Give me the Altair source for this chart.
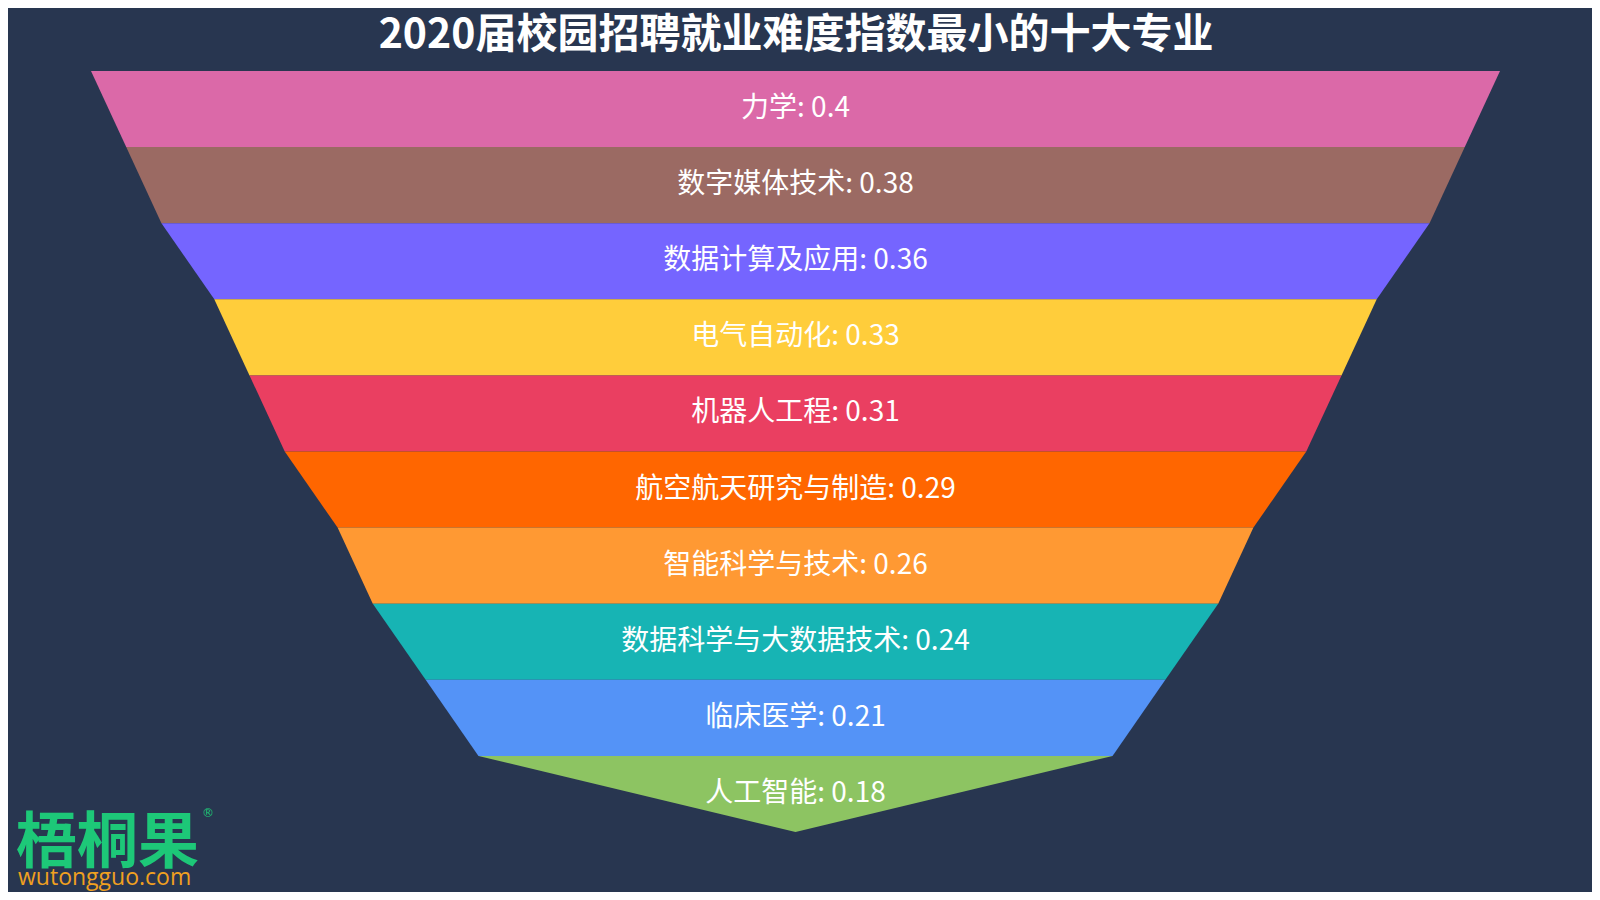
import altair as alt
import pandas as pd

names = ["力学", "数字媒体技术", "数据计算及应用", "电气自动化", "机器人工程",
         "航空航天研究与制造", "智能科学与技术", "数据科学与大数据技术", "临床医学", "人工智能"]
values = [0.4, 0.38, 0.36, 0.33, 0.31, 0.29, 0.26, 0.24, 0.21, 0.18]
colors = ["#db69a8", "#9b6a63", "#7565ff", "#ffcd3b", "#ea3f61",
          "#ff6600", "#ff9933", "#17b4b4", "#5493f7", "#8dc462"]
title_text = "2020届校园招聘就业难度指数最小的十大专业"

BG = "#283650"

# trapezoid per band as a range area along x: top edge at band index i,
# bottom edge at i+1 between -next..next, slanted sides from +-value to +-next
rows = []
for i, (n, v) in enumerate(zip(names, values)):
    nxt = values[i + 1] if i + 1 < len(values) else 0.0
    if nxt == 0.0:
        pts = [(-v, i, i), (0.0, i, i + 1), (v, i, i)]
    else:
        pts = [(-v, i, i), (-nxt, i, i + 1), (nxt, i, i + 1), (v, i, i)]
    for x, yt, yb in pts:
        rows.append({"name": n, "xv": x, "top": yt, "bot": yb})
shapes = pd.DataFrame(rows)

labels = pd.DataFrame({
    "name": names,
    "mid": [i + 0.5 for i in range(len(names))],
    "text": [f"{n}: {v}" for n, v in zip(names, values)],
})

# value v spans [-v, v]; -0.4..0.4 -> 83..1492 px of the 1584-wide view
xscale = alt.Scale(domain=[-0.4 - 83 / 1761.25, 0.4 + 92 / 1761.25], nice=False, zero=False)
yscale = alt.Scale(domain=[-63 / 76.1, 10 + 60 / 76.1], nice=False, zero=False, reverse=True)

areas = alt.Chart(shapes).mark_area(opacity=1, interpolate="linear").encode(
    x=alt.X("xv:Q", scale=xscale, axis=None),
    y=alt.Y("top:Q", scale=yscale, axis=None, stack=None),
    y2="bot:Q",
    color=alt.Color("name:N", scale=alt.Scale(domain=names, range=colors), legend=None),
)

text = alt.Chart(labels).mark_text(
    font="Noto Sans CJK SC", fontSize=28, color="white", baseline="middle", align="center"
).encode(
    y=alt.Y("mid:Q", scale=yscale, axis=None),
    x=alt.datum(0, scale=xscale),
    text="text:N",
)

one = pd.DataFrame({"t": [title_text], "logo": ["梧桐果"], "url": ["wutongguo.com"], "r": ["®"]})

title = alt.Chart(one).mark_text(
    font="Noto Sans CJK SC", fontSize=41, fontWeight="bold", color="white",
    align="center", baseline="middle"
).encode(x=alt.value(788), y=alt.value(28), text="t:N")

logo = alt.Chart(one).mark_text(
    font="Noto Sans CJK SC", fontSize=61, fontWeight="bold", color="#1dc878",
    align="left", baseline="middle"
).encode(x=alt.value(8), y=alt.value(837), text="logo:N")

url = alt.Chart(one).mark_text(
    font="Open Sans", fontSize=23, color="#f0a020", align="left", baseline="middle"
).encode(x=alt.value(10), y=alt.value(870), text="url:N")

reg = alt.Chart(one).mark_text(
    font="DejaVu Sans", fontSize=12, color="#1dc878", align="left", baseline="middle"
).encode(x=alt.value(194), y=alt.value(805), text="r:N")

chart = alt.layer(areas, text, title, logo, url, reg).properties(
    width=1584, height=884,
    autosize=alt.AutoSizeParams(type="fit", contains="padding"),
    background=BG,
    padding=0,
).configure_view(stroke=None)

chart.save("out.html", embed_options={"renderer": "svg", "actions": False})
